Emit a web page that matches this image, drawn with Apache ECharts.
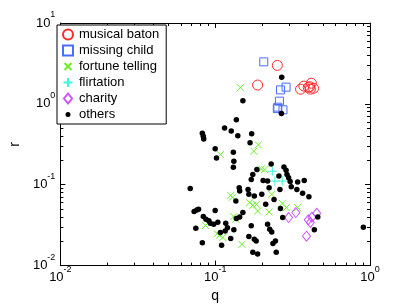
<!DOCTYPE html>
<html><head><meta charset="utf-8">
<script src="https://cdn.jsdelivr.net/npm/echarts@6/dist/echarts.min.js"></script>
<style>html,body{margin:0;padding:0;background:#fff}#c{width:409px;height:308px}</style>
</head><body><div id="c"></div><script>
// ---- data (q, r) ----
const musicalBatonQ = [0.252,0.188,0.356,0.374,0.399,0.418,0.412,0.432,0.408];
const musicalBatonR = [2.99,1.71,1.52,1.66,1.60,1.80,1.52,1.56,1.63];
const missingChildQ = [0.206,0.287,0.264,0.260,0.254,0.252,0.274];
const missingChildR = [3.31,1.61,1.49,1.08,0.910,0.875,0.844];
const fortuneTellingQ = [0.1455,0.190,0.178,0.108,0.199,0.209,0.126,0.129,0.132,0.136,0.0865,0.103,0.107,0.112,0.149,0.167,0.175,0.185,0.188,0.223,0.232,0.271,0.288,0.341];
const fortuneTellingR = [1.59,0.311,0.259,0.236,0.157,0.154,0.0738,0.0698,0.0404,0.0374,0.0313,0.0248,0.0238,0.0223,0.0183,0.0601,0.0556,0.0573,0.0473,0.0460,0.0760,0.0589,0.0521,0.0521];
const flirtationQ = [0.234,0.243,0.271];
const flirtationR = [0.147,0.111,0.111];
const charityQ = [0.298,0.332,0.399,0.412,0.421,0.453,0.389];
const charityR = [0.0393,0.0453,0.0369,0.0341,0.0396,0.0444,0.0231];
const othersQ = [0.269,0.151,0.268,0.137,0.115,0.127,0.140,0.172,0.168,0.100,
 0.131,0.0826,0.0838,0.0844,0.102,0.132,0.131,0.230,0.186,0.278,
 0.287,0.291,0.298,0.175,0.171,0.204,0.218,0.258,0.305,0.341,
 0.376,0.223,0.262,0.310,0.337,0.367,0.163,0.165,0.179,0.200,
 0.212,0.240,0.264,0.273,0.151,0.144,0.137,0.171,0.218,0.225,
 0.232,0.165,0.179,0.184,0.245,0.236,0.175,0.188,0.248,0.460,
 0.437,0.906,0.0690,0.0731,0.0761,0.0781,0.100,0.0838,0.0871,0.0910,
 0.0930,0.0979,0.104,0.117,0.120,0.132,0.0750,0.0826,0.110,0.116,
 0.126,0.108,0.143,0.144,0.136,0.403];
const othersR = [2.13,1.09,0.760,0.636,0.502,0.462,0.404,0.428,0.331,0.279,
 0.252,0.434,0.398,0.368,0.214,0.195,0.165,0.181,0.154,0.166,
 0.151,0.134,0.122,0.134,0.116,0.113,0.111,0.128,0.110,0.108,
 0.113,0.0918,0.0875,0.0945,0.0875,0.0782,0.0875,0.0760,0.0724,0.0760,
 0.0573,0.0659,0.0507,0.0393,0.0453,0.0400,0.0382,0.0310,0.0325,0.0282,
 0.0261,0.0229,0.0212,0.0202,0.0202,0.0188,0.0146,0.0139,0.0146,0.0400,
 0.0278,0.0297,0.0900,0.0466,0.0487,0.0497,0.0479,0.0404,0.0374,0.0359,
 0.0334,0.0325,0.0344,0.0334,0.0294,0.0277,0.0290,0.0192,0.0179,0.0267,
 0.0217,0.0257,0.0918,0.0834,0.0629,0.0712];
const seriesNames = ['musical baton','missing child','fortune telling','flirtation','charity','others'];
const xRange = [0.01, 1];
const yRange = [0.01, 10];
const xName = 'q', yName = 'r';

// ---- helpers ----
const zip = (a, b) => a.map((v, i) => [v, b[i]]);
function minorLog(lo, hi) {
  const out = [];
  for (let e = Math.round(Math.log10(lo)); e < Math.round(Math.log10(hi)); e++)
    for (let k = 2; k <= 9; k++) out.push(Math.log10(k) + e);
  return out;
}
const FONT = 'Liberation Sans';
// both tokens are 20px tall so they fill the line; "10" sits low, exponent high
const rich = {
  b: {fontSize: 13, fontFamily: FONT, color: '#000', lineHeight: 14, padding: [6, 0, 0, 0]},
  s: {fontSize: 9, fontFamily: FONT, color: '#000', lineHeight: 10, padding: [0, 0, 10, 0]}
};
const fmt = v => '{b|10}{s|' + Math.round(Math.log10(v)) + '}';
const lineStyle = {color: '#000', width: 1};

function majorAxis(pos, range, showLabel, extra) {
  const vertical = pos === 'left' || pos === 'right';
  return Object.assign({
    type: 'log', logBase: 10, min: range[0], max: range[1], position: pos,
    axisLine: {show: true, onZero: false, lineStyle},
    axisTick: {show: true, inside: true, length: 5, lineStyle},
    axisLabel: {show: showLabel, formatter: fmt, rich, margin: vertical ? 5 : 2,
      padding: vertical ? [0, 0, 6, 0] : 0,
      showMinLabel: true, showMaxLabel: true},
    splitLine: {show: false}, minorTick: {show: false}
  }, extra || {});
}
function minorAxis(pos, range) {
  return {
    type: 'value', min: Math.log10(range[0]), max: Math.log10(range[1]), position: pos,
    axisLine: {show: false, onZero: false},
    axisTick: {show: true, inside: true, length: 3, lineStyle, customValues: minorLog(range[0], range[1])},
    axisLabel: {show: false}, splitLine: {show: false}
  };
}

const xSym = 'path://M0,0M10,10M1.5,1.5L8.5,8.5M8.5,1.5L1.5,8.5';
const plusSym = 'path://M0,0M10,10M5,0.5L5,9.5M0.5,5L9.5,5';
const squareSym = 'path://M0,0L10,0L10,10L0,10Z';
const diamondSym = 'path://M4,0L8,5L4,10L0,5Z';
const dotIcon = 'path://M0,0M10,10M2.5,5a2.5,2.5 0 1,0 5,0a2.5,2.5 0 1,0 -5,0Z';

function hollow(color) {
  return {color: 'rgba(0,0,0,0)', borderColor: color, borderWidth: 1, opacity: 1};
}

const chart = echarts.init(document.getElementById('c'), null, {renderer: 'canvas'});
chart.setOption({
  animation: false,
  backgroundColor: '#fff',
  grid: {left: 53, right: 39, top: 23, bottom: 41, containLabel: false},
  legend: {
    orient: 'vertical', left: 57, top: 25,
    backgroundColor: '#fff', borderColor: '#000', borderWidth: 1,
    padding: [3, 7, 3, 5], itemGap: 3, itemWidth: 12, itemHeight: 10,
    textStyle: {fontSize: 13, fontFamily: FONT, color: '#000', lineHeight: 13},
    data: seriesNames.slice(0, 5).concat([{name: 'others', icon: dotIcon}]),
    selectedMode: false
  },
  xAxis: [
    majorAxis('bottom', xRange, true, {name: xName, nameLocation: 'middle', nameGap: 18,
      nameTextStyle: {fontSize: 14, fontFamily: FONT, color: '#000'}}),
    minorAxis('bottom', xRange),
    majorAxis('top', xRange, false),
    minorAxis('top', xRange)
  ],
  yAxis: [
    majorAxis('left', yRange, true, {name: yName, nameLocation: 'middle', nameGap: 33,
      nameTextStyle: {fontSize: 14, fontFamily: FONT, color: '#000'}}),
    minorAxis('left', yRange),
    majorAxis('right', yRange, false),
    minorAxis('right', yRange)
  ],
  series: [
    {name: seriesNames[0], type: 'scatter', symbol: 'circle', symbolSize: 10,
     itemStyle: hollow('#ff2b2b'), data: zip(musicalBatonQ, musicalBatonR)},
    {name: seriesNames[1], type: 'scatter', symbol: squareSym, symbolSize: 8,
     itemStyle: hollow('#4a6cff'), data: zip(missingChildQ, missingChildR)},
    {name: seriesNames[2], type: 'scatter', symbol: xSym, symbolSize: 10,
     itemStyle: hollow('#6bf02a'), data: zip(fortuneTellingQ, fortuneTellingR)},
    {name: seriesNames[3], type: 'scatter', symbol: plusSym, symbolSize: 10,
     itemStyle: hollow('#3ff5dc'), data: zip(flirtationQ, flirtationR)},
    {name: seriesNames[4], type: 'scatter', symbol: diamondSym, symbolSize: [8, 10],
     itemStyle: hollow('#cc55ff'), data: zip(charityQ, charityR)},
    {name: seriesNames[5], type: 'scatter', symbol: 'circle', symbolSize: 5.5,
     itemStyle: {color: '#000', opacity: 1}, data: zip(othersQ, othersR)}
  ].map(s => Object.assign(s, {xAxisIndex: 0, yAxisIndex: 0, silent: true}))
});
</script></body></html>
